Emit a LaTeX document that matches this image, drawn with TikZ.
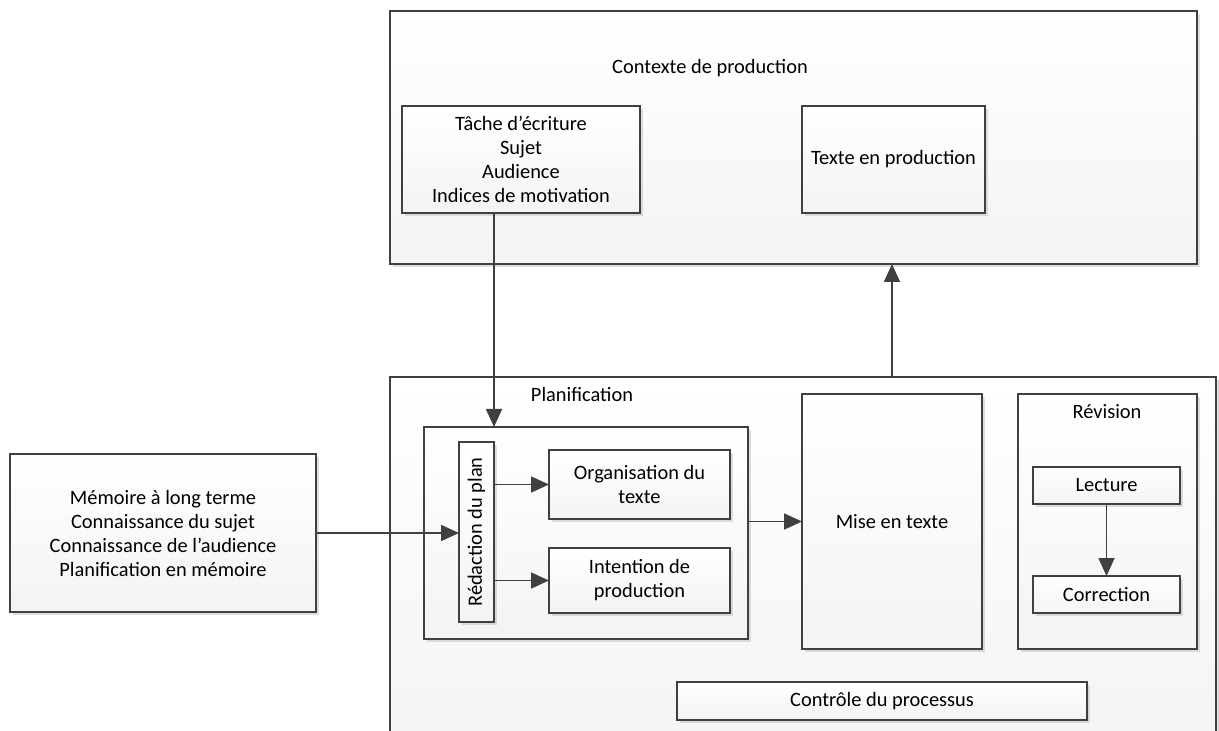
\documentclass[tikz,border=0pt]{standalone}
\usepackage{fontspec}
\setmainfont{Carlito}
\usetikzlibrary{arrows.meta}
\usetikzlibrary{shadows}
\definecolor{linegray}{HTML}{404040}
\tikzset{box/.style={draw=linegray, line width=0.9pt, top color=white, bottom color=gray!9,
drop shadow={shadow xshift=1.5pt, shadow yshift=-1.5pt, opacity=0.25},
align=center, inner sep=0pt, outer sep=0pt},
%filled triangle heads as in the drawing
arr/.style={-{Triangle[length=9pt,width=8pt]}, draw=linegray, line width=0.9pt}}

\begin{document}
\begin{tikzpicture}[x=0.5pt,y=-0.5pt,font=\fontsize{10.2}{12}\selectfont]
\useasboundingbox (0,0) rectangle (1219,731);
\clip (0,0) rectangle (1219,731);

% production context
\node[box, minimum width=403.5pt, minimum height=126.5pt] (ctx) at (793.5,137.5) {};
\node (ctxtitle) at (710,68) {Contexte de production};
\node[box, minimum width=119pt, minimum height=53.5pt] (tache) at (521,159.5)
     {T\^ache d’\'ecriture\\Sujet\\Audience\\Indices de motivation};
\node[box, minimum width=91.5pt, minimum height=53.5pt] (texteprod) at (893.5,159.5) {Texte en production};

% long term memory
\node[box, minimum width=153pt, minimum height=79pt] (memoire) at (163,533)
     {M\'emoire \`a long terme\\Connaissance du sujet\\Connaissance de l’audience\\Planification en m\'emoire};

% writing process
\node[box, minimum width=413pt, minimum height=191.5pt] (planif) at (803,568.5) {};
\node (planiftitle) at (582,394) {Planification};
\node[box, minimum width=162pt, minimum height=106pt] (plan) at (586,533) {};
\node[box, rotate=90, minimum width=90pt, minimum height=17.5pt] (redaction) at (476.5,532) {R\'edaction du plan};
\node[box, minimum width=90.5pt, minimum height=34.5pt] (orga) at (639.5,484.5) {Organisation du\\texte};
\node[box, minimum width=90.5pt, minimum height=32.5pt] (intention) at (639.5,580.5) {Intention de\\production};
\node[box, minimum width=90pt, minimum height=127.5pt] (mise) at (892,521.5) {Mise en texte};
\node[box, minimum width=89.5pt, minimum height=127.5pt] (revision) at (1107.5,521.5) {};
\node (revisiontitle) at (1107,412) {R\'evision};
\node[box, minimum width=73.5pt, minimum height=18.5pt] (lecture) at (1106.5,485.5) {Lecture};
\node[box, minimum width=73.5pt, minimum height=18.5pt] (correction) at (1106.5,594.5) {Correction};
\node[box, minimum width=205pt, minimum height=19pt] (controle) at (882,701) {Contr\^ole du processus};

%arrows
\coordinate (tin) at (494,0);
\draw[arr] (tache.south -| tin) -- (plan.north -| tin);
\draw[arr] (planif.north -| mise) -- (ctx.south -| mise);
\draw[arr] (memoire.east) -- (memoire.east -| redaction.north);
\draw[arr] (redaction.south |- orga) -- (orga.west);
\draw[arr] (redaction.south |- intention) -- (intention.west);
\draw[arr] (mise.west -| plan.east) -- (mise.west);
\draw[arr] (lecture.south) -- (correction.north);

\end{tikzpicture}
\end{document}
